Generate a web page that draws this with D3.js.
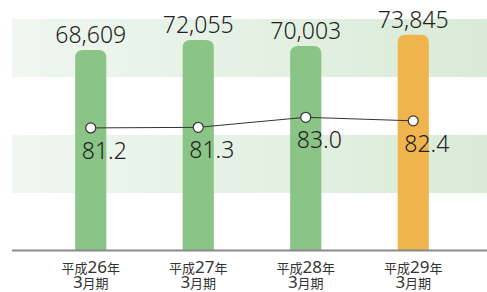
<!DOCTYPE html>
<html>
<head>
<meta charset="utf-8">
<script src="https://cdn.jsdelivr.net/npm/d3@7"></script>
<style>
  html, body { margin: 0; padding: 0; background: #fff; }
  svg { display: block; }
</style>
</head>
<body>
<svg id="chart"></svg>
<script>
const years = ["26", "27", "28", "29"];
const sales = [68609, 72055, 70003, 73845];
const ratios = [81.2, 81.3, 83.0, 82.4];
const barColors = ["#8bc487", "#8bc487", "#8bc487", "#f0b44f"];

const width = 487, height = 292;
const plotLeft = 12, baseY = 250.5;

const svg = d3.select("#chart")
    .attr("width", width)
    .attr("height", height);

const defs = svg.append("defs");
const grad = defs.append("linearGradient")
    .attr("id", "band")
    .attr("x1", "0%").attr("x2", "100%");
grad.append("stop").attr("offset", "0%").attr("stop-color", "#eff7f0");
grad.append("stop").attr("offset", "100%").attr("stop-color", "#d9ebd7");

// background stripes
const stripes = [0, 1, 2, 3];
const stripeY = d3.scaleBand().domain(stripes).range([19, 251]);
svg.append("g").selectAll("rect")
    .data(stripes.filter(d => d % 2 == 0))
    .join("rect")
    .attr("x", plotLeft)
    .attr("y", d => stripeY(d))
    .attr("width", width - plotLeft)
    .attr("height", stripeY.bandwidth())
    .attr("fill", "url(#band)");

const x = d3.scaleBand()
    .domain(years)
    .range([37, 467])
    .paddingInner(0.71)
    .paddingOuter(0.355);

const y = d3.scaleLinear()
    .domain([0, 85700])
    .range([baseY, 0]);

const y2 = d3.scaleLinear()
    .domain([60, 100])
    .range([253, 17]);

const data = years.map((yr, i) => ({yr, sale: sales[i], ratio: ratios[i], color: barColors[i]}));

// bars with rounded tops
const r = 8;
function barPath(d) {
  const x0 = x(d.yr), w = x.bandwidth(), top = y(d.sale), bottom = y(0);
  return `M${x0},${bottom}V${top + r}Q${x0},${top} ${x0 + r},${top}` +
         `H${x0 + w - r}Q${x0 + w},${top} ${x0 + w},${top + r}V${bottom}Z`;
}
svg.append("g").selectAll("path")
    .data(data)
    .join("path")
    .attr("d", barPath)
    .attr("fill", d => d.color);

// baseline
svg.append("line")
    .attr("x1", plotLeft).attr("x2", width)
    .attr("y1", y(0)).attr("y2", y(0))
    .attr("stroke", "#8a8a8a")
    .attr("stroke-width", 2);

// bar value labels
svg.append("g").selectAll("text")
    .data(data)
    .join("text")
    .attr("x", d => x(d.yr) + x.bandwidth() / 2)
    .attr("y", d => y(d.sale) - 7)
    .attr("text-anchor", "middle")
    .attr("font-family", "'Noto Sans', sans-serif")
    .attr("font-weight", 300)
    .attr("font-size", "23px")
    .attr("fill", "#222")
    .text(d => d3.format(",")(d.sale));

// ratio line
const cx = d => x(d.yr) + x.bandwidth() / 2;
svg.append("path")
    .datum(data)
    .attr("d", d3.line().x(cx).y(d => y2(d.ratio)))
    .attr("fill", "none")
    .attr("stroke", "#333")
    .attr("stroke-width", 1);

svg.append("g").selectAll("circle")
    .data(data)
    .join("circle")
    .attr("cx", cx)
    .attr("cy", d => y2(d.ratio))
    .attr("r", 5)
    .attr("fill", "#fff")
    .attr("stroke", "#333")
    .attr("stroke-width", 1.2);

svg.append("g").selectAll("text")
    .data(data)
    .join("text")
    .attr("x", d => cx(d) - 9)
    .attr("y", d => y2(d.ratio) + 31)
    .attr("font-family", "'Noto Sans', sans-serif")
    .attr("font-weight", 300)
    .attr("font-size", "23px")
    .attr("fill", "#222")
    .text(d => d.ratio.toFixed(1));

// category labels, two lines each
const catLines = [
  d => [["平成", 13, false], [d.yr, 17, true], ["年", 13, false]],
  d => [["3", 17, true], ["月期", 13, false]]
];
const lineY = [273, 288];

const cats = svg.append("g");
data.forEach(d => {
  catLines.forEach((fn, li) => {
    const t = cats.append("text")
        .attr("x", cx(d))
        .attr("y", lineY[li])
        .attr("text-anchor", "middle")
        .attr("fill", "#333")
        .attr("font-family", "'Noto Sans CJK JP', sans-serif");
    fn(d).forEach(([s, size, num]) => {
      const ts = t.append("tspan").attr("font-size", size + "px").text(s);
      if (num) ts.attr("font-family", "'Noto Sans', sans-serif");
    });
  });
});
</script>
</body>
</html>
